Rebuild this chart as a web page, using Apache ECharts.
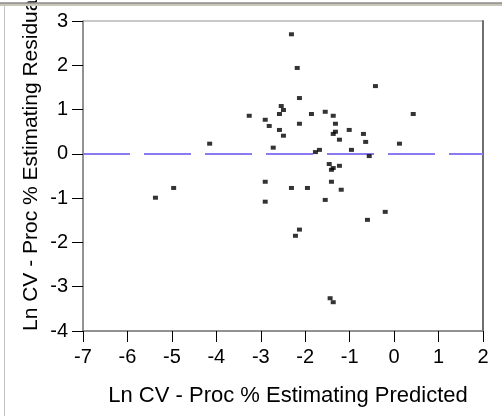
<!DOCTYPE html>
<html><head><meta charset="utf-8">
<script src="https://cdn.jsdelivr.net/npm/echarts@6/dist/echarts.min.js"></script>
<style>html,body{margin:0;padding:0;background:#fff}#c{width:502px;height:416px}</style>
</head><body><div id="c"></div>
<script>
const xTicks = [-7, -6, -5, -4, -3, -2, -1, 0, 1, 2];
const yTicks = [-4, -3, -2, -1, 0, 1, 2, 3];
const predicted = [-2.31, -2.18, -0.42, -2.13, -2.54, -2.49, -2.58, -3.26, -1.86, -1.55,
  -1.37, 0.43, -2.90, -2.81, -2.13, -2.58, -1.32, -1.01, -1.32, -1.37,
  -0.69, -2.49, -1.23, -0.64, -4.15, 0.12, -2.72, -0.96, -1.68, -1.77,
  -0.56, -1.46, -1.23, -1.37, -1.41, -2.90, -1.41, -2.31, -1.95, -4.96,
  -1.19, -5.37, -1.55, -2.90, -0.20, -0.60, -2.13, -2.22, -1.44, -1.37];
const residual = [2.70, 1.94, 1.53, 1.26, 1.08, 0.99, 0.90, 0.86, 0.90, 0.95,
  0.86, 0.90, 0.77, 0.63, 0.68, 0.54, 0.68, 0.54, 0.50, 0.45,
  0.45, 0.41, 0.32, 0.27, 0.23, 0.23, 0.14, 0.09, 0.09, 0.04,
  -0.05, -0.23, -0.27, -0.32, -0.36, -0.63, -0.63, -0.77, -0.77, -0.77,
  -0.81, -0.99, -1.04, -1.08, -1.31, -1.49, -1.71, -1.85, -3.26, -3.35];
const referenceLine = 0;
const xTitle = 'Ln CV - Proc % Estimating Predicted';
const yTitle = 'Ln CV - Proc % Estimating Residual';

const FONT = '"Liberation Sans", Arial, sans-serif';
const points = predicted.map((x, i) => [x, residual[i]]);
const chart = echarts.init(document.getElementById('c'), null, {renderer: 'canvas'});
chart.setOption({
  animation: false,
  backgroundColor: '#ffffff',
  grid: {left: 83, right: 19, top: 21, bottom: 85, show: true, borderColor: '#909090', borderWidth: 1, backgroundColor: 'transparent'},
  xAxis: {
    type: 'value', min: xTicks[0], max: xTicks[xTicks.length - 1], interval: 1,
    axisLine: {show: true, onZero: false, lineStyle: {color: '#808080', width: 1.5}},
    axisTick: {show: true, inside: false, length: 11, lineStyle: {color: '#000', width: 1}},
    axisLabel: {color: '#000', fontSize: 20, fontFamily: FONT, margin: 16},
    splitLine: {show: false},
    name: xTitle, nameLocation: 'middle', nameGap: 54,
    nameTextStyle: {color: '#000', fontSize: 22, fontFamily: FONT, padding: [0, 0, 0, 10]}
  },
  yAxis: [{
    type: 'value', min: yTicks[0], max: yTicks[yTicks.length - 1], interval: 1,
    axisLine: {show: true, onZero: false, lineStyle: {color: '#808080', width: 1.5}},
    axisTick: {show: true, inside: false, length: 11, lineStyle: {color: '#000', width: 1}},
    axisLabel: {color: '#000', fontSize: 20, fontFamily: FONT, margin: 15},
    splitLine: {show: false}
  }, {
    type: 'value', position: 'right', min: yTicks[0], max: yTicks[yTicks.length - 1], interval: 1,
    axisLine: {show: true, onZero: false, lineStyle: {color: '#707070', width: 2}},
    axisTick: {show: false}, axisLabel: {show: false}, splitLine: {show: false}
  }],
  series: [{
    type: 'scatter', data: points, yAxisIndex: 0,
    symbol: 'rect', symbolSize: [5, 4],
    itemStyle: {color: '#000'},
    z: 5,
    markLine: {
      silent: true, symbol: 'none', animation: false,
      label: {show: false},
      lineStyle: {color: '#8a7cf0', width: 2, type: [47, 14], opacity: 1},
      data: [{yAxis: referenceLine}]
    }
  }],
  graphic: [
    {type: 'text', x: 31, y: 331, rotation: Math.PI / 2, z: 10,
     style: {text: yTitle, fill: '#000', font: '21px ' + FONT, fontSize: 21, fontFamily: FONT,
             align: 'left', textAlign: 'left', verticalAlign: 'middle', textVerticalAlign: 'middle'}},
    {type: 'rect', shape: {x: 0, y: 2.5, width: 502, height: 3.5}, style: {fill: '#c9c5b8'}, z: 20},
    {type: 'line', shape: {x1: 0, y1: 3, x2: 502, y2: 3}, style: {stroke: '#6e6e6e', lineWidth: 1}, z: 21},
    {type: 'line', shape: {x1: 4.5, y1: 6, x2: 4.5, y2: 416}, style: {stroke: '#c4c4c4', lineWidth: 1}, z: 21}
  ]
});
</script></body></html>
